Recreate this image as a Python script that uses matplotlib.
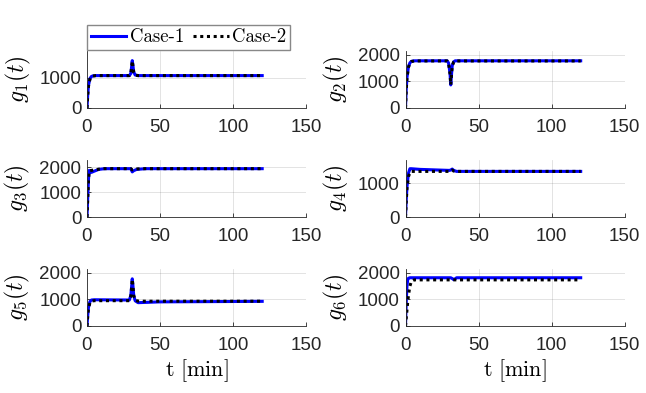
import numpy as np
import matplotlib
matplotlib.use("Agg")
import matplotlib.pyplot as plt

plt.rcParams['font.family'] = ['Liberation Sans', 'DejaVu Sans']
plt.rcParams['mathtext.fontset'] = 'cm'

# time grids and values (minutes, g(t))
t_g1 = [0, 0.5, 1, 2, 3, 4, 6, 29, 30, 30.5, 31, 31.5, 32, 33, 35, 120]
g1_case1 = [0, 450, 750, 980, 1050, 1070, 1080, 1080, 1150, 1350, 1580, 1400, 1200, 1100, 1080, 1080]
g1_case2 = [0, 420, 720, 960, 1040, 1065, 1080, 1080, 1140, 1340, 1570, 1390, 1190, 1095, 1080, 1080]

t_g2 = [0, 0.5, 1, 2, 3, 4, 6, 28.5, 29.5, 30.5, 31, 31.5, 32, 33, 34, 120]
g2_case1 = [0, 700, 1150, 1550, 1700, 1760, 1780, 1780, 1700, 1300, 870, 1250, 1600, 1740, 1780, 1780]
g2_case2 = [0, 680, 1120, 1530, 1690, 1750, 1775, 1775, 1690, 1290, 880, 1240, 1590, 1735, 1775, 1775]

t_g3 = [0, 0.5, 1, 1.5, 2, 3, 5, 8, 12, 30, 31, 32, 34, 40, 120]
g3_case1 = [0, 800, 1500, 1880, 1850, 1800, 1850, 1920, 1950, 1950, 1820, 1870, 1920, 1950, 1950]
g3_case2 = [0, 750, 1450, 1850, 1870, 1880, 1900, 1930, 1950, 1950, 1900, 1920, 1940, 1950, 1950]

t_g4 = [0, 0.5, 1, 2, 3, 4, 10, 20, 30, 31, 32, 33, 35, 120]
g4_case1 = [0, 500, 900, 1300, 1440, 1440, 1420, 1405, 1390, 1400, 1430, 1390, 1360, 1360]
g4_case2 = [0, 450, 850, 1200, 1320, 1360, 1360, 1360, 1360, 1370, 1400, 1370, 1360, 1360]

t_g5 = [0, 0.5, 1, 2, 3, 5, 29, 30, 30.5, 31, 31.5, 32, 33, 35, 40, 50, 120]
g5_case1 = [0, 400, 700, 920, 980, 990, 980, 1150, 1450, 1780, 1500, 1150, 950, 880, 890, 910, 930]
g5_case2 = [0, 380, 650, 880, 940, 955, 955, 1120, 1420, 1760, 1480, 1150, 970, 940, 935, 935, 935]

t_g6 = [0, 0.5, 1, 1.5, 2, 3, 4, 6, 31, 32, 33, 34, 35, 120]
g6_case1 = [0, 900, 1500, 1750, 1800, 1820, 1820, 1820, 1820, 1790, 1750, 1780, 1820, 1820]
g6_case2 = [0, 300, 600, 900, 1150, 1500, 1680, 1740, 1740, 1740, 1740, 1740, 1740, 1740]

ylabels = [r'$g_1(t)$', r'$g_2(t)$', r'$g_3(t)$', r'$g_4(t)$', r'$g_5(t)$', r'$g_6(t)$']
x_ticks = [0, 50, 100, 150]

series = [(t_g1, g1_case1, g1_case2), (t_g2, g2_case1, g2_case2),
          (t_g3, g3_case1, g3_case2), (t_g4, g4_case1, g4_case2),
          (t_g5, g5_case1, g5_case2), (t_g6, g6_case1, g6_case2)]
ymax = [1900, 2150, 2300, 1700, 2150, 2150]

W, H = 646, 393
fig = plt.figure(figsize=(W / 100, H / 100), dpi=100)

lefts = [87, 405.5]
tops = [51, 160, 269]
aw, ah = 219, 57
axc = '#262626'

handles = None
for i, (t, c1, c2) in enumerate(series):
    r, c = divmod(i, 2)
    ax = fig.add_axes([lefts[c] / W, 1 - (tops[r] + ah) / H, aw / W, ah / H])
    l1, = ax.plot(t, c1, color='#0000ff', lw=2.2, label='Case-1')
    l2, = ax.plot(t, c2, color='black', lw=2.2, ls=(0, (1, 1.2)), label='Case-2')
    if handles is None:
        handles = [l1, l2]
    ax.set_xlim(0, 150)
    ax.set_ylim(0, ymax[i])
    ax.set_xticks(x_ticks)
    ax.set_yticks([v for v in [0, 1000, 2000] if v <= ymax[i]])
    ax.grid(True, color=axc, alpha=0.15, lw=0.6)
    ax.spines['top'].set_visible(False)
    ax.spines['right'].set_visible(False)
    for s in ['left', 'bottom']:
        ax.spines[s].set_color(axc)
        ax.spines[s].set_linewidth(0.6)
    ax.tick_params(direction='in', length=3, width=0.6, colors=axc, labelsize=13.5)
    ax.tick_params(axis='x', pad=8)
    ax.tick_params(axis='y', pad=4)
    ax.set_ylabel(ylabels[i], fontsize=17, labelpad=5)
    if r == 2:
        ax.set_xlabel(r'$\mathrm{t\ [min]}$', fontsize=16, labelpad=2)

fig.legend(handles, ['Case-1', 'Case-2'], loc='lower left',
           bbox_to_anchor=(87 / W, 1 - 50 / H), ncol=2, frameon=True,
           fancybox=False, edgecolor='#888888', framealpha=1,
           prop={'family': 'cmr10', 'size': 13.5}, handlelength=1.9,
           handletextpad=0.2, columnspacing=0.45, borderpad=0.2,
           borderaxespad=0)

fig.savefig('out.png', dpi=100)
